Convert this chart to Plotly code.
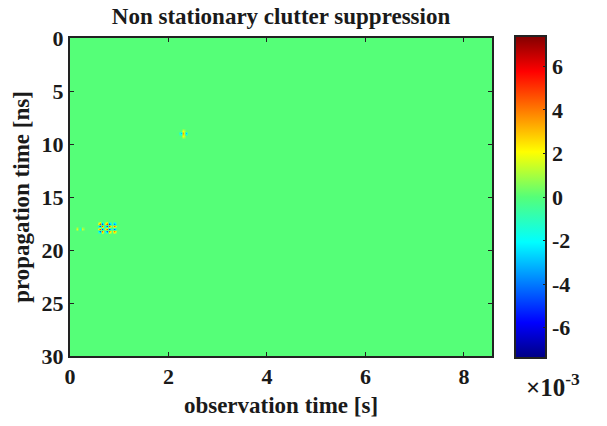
import numpy as np
import plotly.graph_objects as go

# --- data ---
obs_time_max = 8.57      # s
prop_time_max = 30.0     # ns
dx = 0.05                # s per column
dy = 0.25                # ns per row

# sparse residual clutter after suppression (s, ns, value)
feat_x = [2.25, 2.30, 2.35, 2.30, 2.30,
          0.15, 0.20, 0.25,
          0.60, 0.60, 0.60, 0.60, 0.65, 0.65, 0.65, 0.65,
          0.75, 0.75, 0.75, 0.75, 0.80, 0.80, 0.80, 0.80,
          0.90, 0.90, 0.90, 0.90]
feat_y = [9.0, 9.0, 9.0, 8.75, 9.25,
          18.0, 18.0, 18.0,
          17.5, 17.75, 18.0, 18.25, 17.5, 17.75, 18.0, 18.25,
          17.5, 17.75, 18.0, 18.25, 17.5, 17.75, 18.0, 18.25,
          17.5, 17.75, 18.0, 18.25]
feat_v = [-0.0030, 0.0035, -0.0030, 0.0020, 0.0020,
          0.0018, -0.0020, 0.0016,
          0.0050, -0.0050, 0.0050, -0.0045, -0.0050, 0.0050, -0.0050, 0.0045,
          0.0050, -0.0050, 0.0050, -0.0045, -0.0050, 0.0050, -0.0050, 0.0045,
          -0.0040, 0.0045, -0.0045, 0.0040]

cbar_vals = [-6e-3, -4e-3, -2e-3, 0, 2e-3, 4e-3, 6e-3]
cbar_text = ["-6", "-4", "-2", "0", "2", "4", "6"]
x_ticks = [0, 2, 4, 6, 8]
y_ticks = [0, 5, 10, 15, 20, 25, 30]
zlim = 7.4e-3

# --- grid ---
nx = int(round(obs_time_max / dx)) + 1
ny = int(round(prop_time_max / dy)) + 1
xs = np.arange(nx) * dx
ys = np.arange(ny) * dy
z = np.zeros((ny, nx))
for fx, fy, fv in zip(feat_x, feat_y, feat_v):
    z[int(round(fy / dy)), int(round(fx / dx))] = fv

jet = [
    [0.0, "rgb(0,0,130)"],
    [0.11, "rgb(0,0,255)"],
    [0.36, "rgb(0,255,255)"],
    [0.5, "rgb(85,255,120)"],
    [0.64, "rgb(255,255,0)"],
    [0.89, "rgb(255,0,0)"],
    [1.0, "rgb(130,0,0)"],
]

font_fam = "Liberation Serif"
txt = "#1a1a1a"
fs = 22
tfs = 23

def bold(labels):
    return ["<b>%s</b>" % s for s in labels]

fig = go.Figure(go.Heatmap(
    x=xs, y=ys, z=z,
    colorscale=jet, zmin=-zlim, zmax=zlim,
    zsmooth="best",
    colorbar=dict(
        x=1.031, xanchor="left", xref="paper",
        y=0.5, yanchor="middle", ypad=0,
        thickness=31, thicknessmode="pixels",
        len=322, lenmode="pixels",
        outlinecolor="#222", outlinewidth=2,
        tickvals=cbar_vals, ticktext=bold(cbar_text),
        ticks="inside", ticklen=4, tickcolor="#222",
        tickfont=dict(family=font_fam, size=fs, color=txt),
    ),
))

fig.update_layout(
    width=607, height=426,
    margin=dict(l=70, r=115, t=38, b=68),
    paper_bgcolor="white", plot_bgcolor="white",
    font=dict(family=font_fam, color=txt),
    title=dict(text="<b>Non stationary clutter suppression</b>",
               x=0.5, xref="paper", xanchor="center",
               y=0.962, yref="container", yanchor="middle",
               font=dict(family=font_fam, size=tfs, color=txt)),
    xaxis=dict(range=[0, obs_time_max], tickvals=x_ticks,
               ticktext=bold([str(v) for v in x_ticks]),
               ticks="inside", ticklen=4, tickcolor="#222",
               showline=True, linecolor="#222", linewidth=2, mirror="ticks",
               showgrid=False, zeroline=False,
               tickfont=dict(family=font_fam, size=fs, color=txt),
               title=dict(text="<b>observation time [s]</b>", standoff=8,
                          font=dict(family=font_fam, size=tfs, color=txt))),
    yaxis=dict(range=[prop_time_max, 0], tickvals=y_ticks,
               ticktext=bold([str(v) for v in y_ticks]),
               ticks="inside", ticklen=4, tickcolor="#222",
               showline=True, linecolor="#222", linewidth=2, mirror="ticks",
               showgrid=False, zeroline=False,
               tickfont=dict(family=font_fam, size=fs, color=txt),
               title=dict(text="<b>propagation time [ns]</b>", standoff=6,
                          font=dict(family=font_fam, size=tfs, color=txt))),
)

fig.add_annotation(text="<b>×10<sup>-3</sup></b>", xref="paper", yref="paper",
                   x=1.075, y=-0.035, xanchor="left", yanchor="top",
                   showarrow=False,
                   font=dict(family=font_fam, size=25, color=txt))

fig.write_html("out.html")
